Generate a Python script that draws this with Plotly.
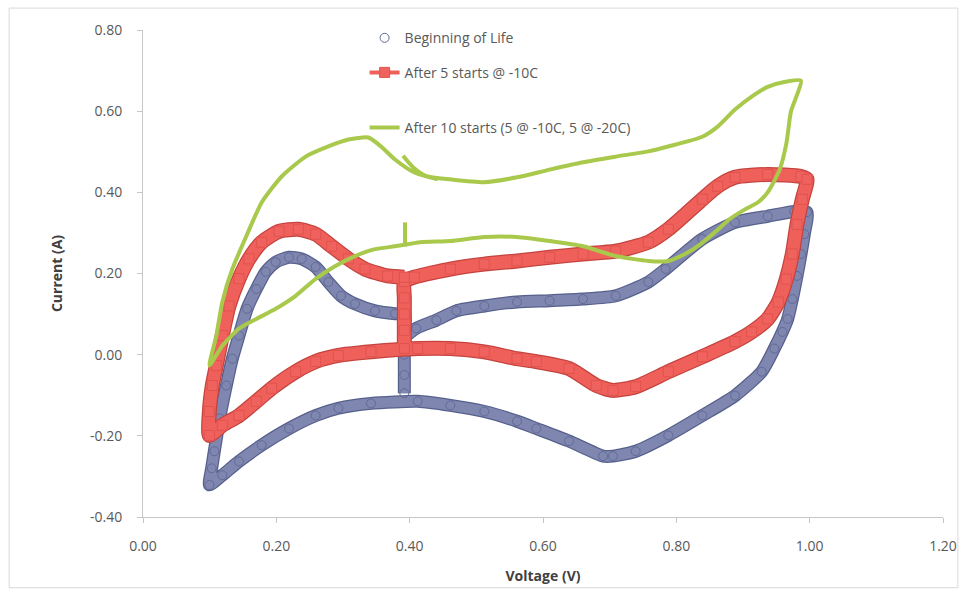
import plotly.graph_objects as go

# ---------------- data ----------------
bol_v = [0.392, 0.392, 0.392, 0.392, 0.41, 0.44, 0.47, 0.512, 0.561, 0.610, 0.660, 0.709, 0.758, 0.784,
         0.839, 0.888, 0.937, 0.977, 0.996,
         0.992, 0.987, 0.981, 0.974, 0.967, 0.959, 0.947, 0.928, 0.888, 0.839, 0.788, 0.739, 0.705, 0.690,
         0.639, 0.590, 0.561, 0.512, 0.461, 0.412, 0.342, 0.293, 0.259, 0.219, 0.178, 0.144, 0.119, 0.0996,
         0.103, 0.107, 0.115, 0.125, 0.134, 0.144, 0.156, 0.170, 0.184, 0.199, 0.219, 0.238, 0.259, 0.278,
         0.297, 0.318, 0.348, 0.378, 0.392, 0.392]
bol_i = [-0.095, -0.05, 0.0, 0.04, 0.065, 0.085, 0.108, 0.120, 0.130, 0.133, 0.137, 0.145, 0.179, 0.211,
         0.285, 0.326, 0.341, 0.353, 0.351,
         0.297, 0.248, 0.194, 0.137, 0.088, 0.056, 0.015, -0.042, -0.101, -0.150, -0.199, -0.238, -0.250, -0.250,
         -0.213, -0.182, -0.164, -0.140, -0.125, -0.115, -0.120, -0.132, -0.150, -0.182, -0.223, -0.263, -0.297, -0.321,
         -0.280, -0.238, -0.157, -0.076, -0.010, 0.047, 0.113, 0.162, 0.204, 0.228, 0.240, 0.236, 0.216, 0.179,
         0.145, 0.125, 0.108, 0.101, 0.100, 0.06]

cold5_v = [0.392, 0.392, 0.392, 0.392, 0.392, 0.407, 0.461, 0.512, 0.561, 0.610, 0.660, 0.709, 0.758, 0.788,
           0.839, 0.862, 0.888, 0.937, 0.987, 0.996,
           0.989, 0.981, 0.974, 0.965, 0.953, 0.937, 0.913, 0.888, 0.839, 0.788, 0.739, 0.705, 0.680, 0.639,
           0.590, 0.561, 0.512, 0.461, 0.412, 0.342, 0.293, 0.259, 0.229, 0.193, 0.170, 0.144, 0.119, 0.0996,
           0.0996, 0.104, 0.110, 0.119, 0.129, 0.144, 0.159, 0.178, 0.204, 0.233, 0.259, 0.283, 0.308, 0.333,
           0.367, 0.392]
cold5_i = [0.015, 0.06, 0.10, 0.14, 0.18, 0.191, 0.211, 0.223, 0.231, 0.240, 0.248, 0.255, 0.277, 0.309,
           0.383, 0.415, 0.437, 0.444, 0.439, 0.432,
           0.383, 0.321, 0.248, 0.186, 0.130, 0.088, 0.056, 0.032, -0.005, -0.042, -0.079, -0.088, -0.076, -0.034,
           -0.017, -0.010, 0.007, 0.015, 0.015, 0.007, -0.002, -0.017, -0.042, -0.083, -0.115, -0.150, -0.174, -0.199,
           -0.140, -0.076, -0.027, 0.047, 0.120, 0.187, 0.236, 0.277, 0.304, 0.309, 0.297, 0.267, 0.236, 0.211,
           0.194, 0.191]

cold10_v = [0.39, 0.405, 0.425, 0.461, 0.512, 0.561, 0.610, 0.660, 0.709, 0.758, 0.788, 0.839, 0.862, 0.888,
            0.913, 0.937, 0.962, 0.987,
            0.981, 0.972, 0.965, 0.955, 0.937, 0.922, 0.903, 0.880, 0.858, 0.836, 0.813, 0.788, 0.758, 0.709,
            0.660, 0.610, 0.561, 0.512, 0.461, 0.416, 0.378, 0.348, 0.318, 0.288, 0.259, 0.229, 0.199, 0.170,
            0.144, 0.119, 0.0996,
            0.110, 0.119, 0.134, 0.155, 0.178, 0.208, 0.244, 0.278, 0.308, 0.338, 0.357, 0.378, 0.407, 0.442,
            None, 0.393, 0.393]
cold10_i = [0.49, 0.462, 0.44, 0.432, 0.425, 0.437, 0.456, 0.474, 0.488, 0.501, 0.513, 0.537, 0.562, 0.604,
            0.636, 0.660, 0.672, 0.675,
            0.64, 0.60, 0.52, 0.456, 0.40, 0.375, 0.358, 0.334, 0.302, 0.272, 0.248, 0.231, 0.231, 0.243,
            0.267, 0.280, 0.290, 0.290, 0.280, 0.277, 0.267, 0.260, 0.243, 0.218, 0.187, 0.145, 0.113, 0.088,
            0.064, 0.022, -0.027,
            0.047, 0.130, 0.211, 0.292, 0.375, 0.439, 0.488, 0.513, 0.530, 0.535, 0.513, 0.481, 0.449, 0.432,
            None, 0.267, 0.326]

x_ticks = [0.0, 0.2, 0.4, 0.6, 0.8, 1.0, 1.2]
x_labels = ["0.00", "0.20", "0.40", "0.60", "0.80", "1.00", "1.20"]
y_ticks = [-0.4, -0.2, 0.0, 0.2, 0.4, 0.6, 0.8]
y_labels = ["-0.40", "-0.20", "0.00", "0.20", "0.40", "0.60", "0.80"]

names = ["Beginning of Life", "After 5 starts @ -10C", "After 10 starts (5 @ -10C, 5 @ -20C)"]

# ---------------- figure ----------------
FONT = "Open Sans"
fig = go.Figure()
spl = dict(shape="spline", smoothing=0.6)

# Beginning of Life: dense ring markers -> band
fig.add_trace(go.Scatter(x=bol_v, y=bol_i, mode="lines", showlegend=False, hoverinfo="skip",
                         line=dict(color="#56608c", width=13, **spl)))
fig.add_trace(go.Scatter(x=bol_v, y=bol_i, mode="lines", showlegend=False, hoverinfo="skip",
                         line=dict(color="#7f87b0", width=10.5, **spl)))
fig.add_trace(go.Scatter(x=bol_v, y=bol_i, mode="markers", name=names[0], legend="legend",
                         marker=dict(symbol="circle-open", size=9, color="#626b96",
                                     line=dict(width=1))))

# After 5 starts
fig.add_trace(go.Scatter(x=cold5_v, y=cold5_i, mode="lines", showlegend=False, hoverinfo="skip",
                         line=dict(color="#c4433e", width=15, **spl)))
fig.add_trace(go.Scatter(x=cold5_v, y=cold5_i, mode="lines", showlegend=False, hoverinfo="skip",
                         line=dict(color="#f0605b", width=12.5, **spl)))
fig.add_trace(go.Scatter(x=cold5_v, y=cold5_i, mode="lines+markers", name=names[1], legend="legend2",
                         line=dict(color="#f0605b", width=4, **spl),
                         marker=dict(symbol="square", size=10, color="#f0625d",
                                     line=dict(color="#e0534e", width=1))))

# After 10 starts
fig.add_trace(go.Scatter(x=cold10_v, y=cold10_i, mode="lines", name=names[2], legend="legend3",
                         connectgaps=False,
                         line=dict(color="#a9c94c", width=4, **spl)))

axis_common = dict(showgrid=False, zeroline=False, showline=True, linecolor="#c6c6c6", linewidth=1,
                   ticks="outside", ticklen=5, tickcolor="#c6c6c6",
                   tickfont=dict(family=FONT, size=14, color="#595959"))

legend_font = dict(family=FONT, size=14, color="#595959")

fig.update_layout(
    width=969, height=594,
    margin=dict(l=143, r=19, t=30, b=75),
    paper_bgcolor="white", plot_bgcolor="white",
    font=dict(family=FONT, color="#595959"),
    xaxis=dict(range=[0, 1.2], tickvals=x_ticks, ticktext=x_labels, ticklabelstandoff=11,
               title=dict(text="Voltage (V)", standoff=17,
                          font=dict(family=FONT, size=14, color="#404040", weight="bold")),
               **axis_common),
    yaxis=dict(range=[-0.4, 0.8], tickvals=y_ticks, ticktext=y_labels, ticklabelstandoff=12,
               title=dict(text="Current (A)", standoff=24,
                          font=dict(family=FONT, size=14, color="#404040", weight="bold")),
               **axis_common),
    legend=dict(x=0.277, y=1.016, xanchor="left", yanchor="top", bgcolor="rgba(0,0,0,0)", font=legend_font),
    legend2=dict(x=0.277, y=0.945, xanchor="left", yanchor="top", bgcolor="rgba(0,0,0,0)", font=legend_font),
    legend3=dict(x=0.277, y=0.832, xanchor="left", yanchor="top", bgcolor="rgba(0,0,0,0)", font=legend_font),
    shapes=[dict(type="rect", xref="paper", yref="paper", x0=-0.1673, x1=1.0186, y0=-0.1452, y1=1.045,
                 line=dict(color="#d9d9d9", width=1), layer="below")],
)

fig.write_html("out.html")
